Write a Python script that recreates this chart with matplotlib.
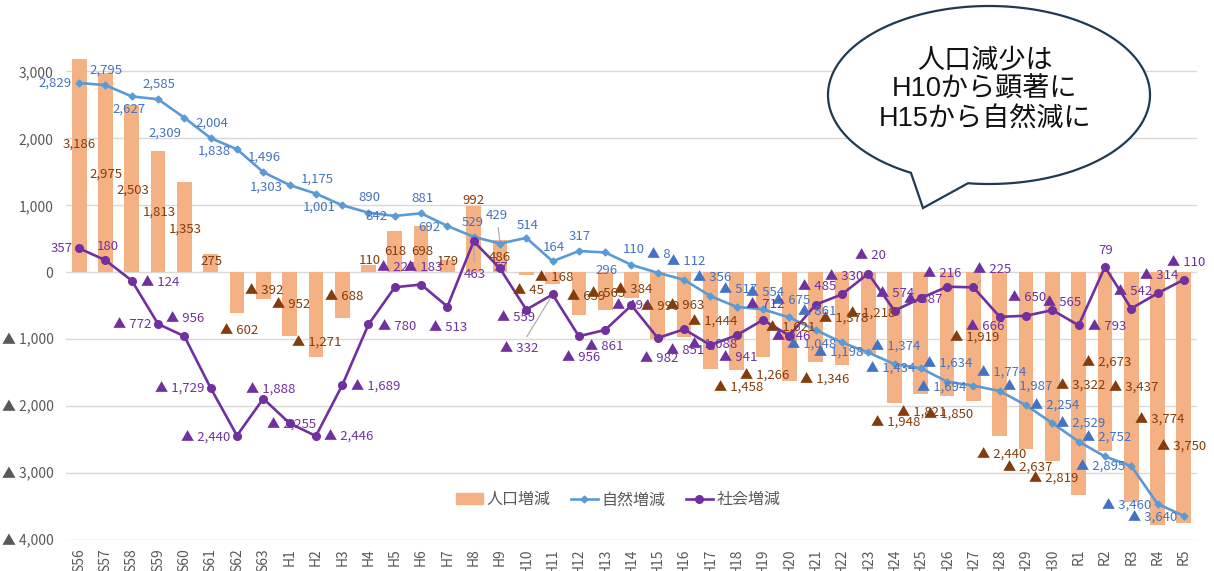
import numpy as np
import matplotlib
matplotlib.use('Agg')
import matplotlib.pyplot as plt
import matplotlib.transforms as mtransforms
from matplotlib.path import Path
from matplotlib.patches import PathPatch, Patch
from matplotlib.lines import Line2D
from matplotlib.ticker import FuncFormatter

plt.rcParams['font.family'] = ['Noto Sans CJK JP', 'DejaVu Sans']

# data (persons per year)
years = ['S56', 'S57', 'S58', 'S59', 'S60', 'S61', 'S62', 'S63',
         'H1', 'H2', 'H3', 'H4', 'H5', 'H6', 'H7', 'H8', 'H9', 'H10',
         'H11', 'H12', 'H13', 'H14', 'H15', 'H16', 'H17', 'H18', 'H19', 'H20',
         'H21', 'H22', 'H23', 'H24', 'H25', 'H26', 'H27', 'H28', 'H29', 'H30',
         'R1', 'R2', 'R3', 'R4', 'R5']
pop = [3186, 2975, 2503, 1813, 1353, 275, -602, -392,
       -952, -1271, -688, 110, 618, 698, 179, 992, 486, -45,
       -168, -639, -565, -384, -990, -963, -1444, -1458, -1266, -1621,
       -1346, -1378, -1218, -1948, -1821, -1850, -1919, -2440, -2637, -2819,
       -3322, -2673, -3437, -3774, -3750]
natural = [2829, 2795, 2627, 2585, 2309, 2004, 1838, 1496,
           1303, 1175, 1001, 890, 842, 881, 692, 529, 429, 514,
           164, 317, 296, 110, -8, -112, -356, -517, -554, -675,
           -861, -1048, -1198, -1374, -1434, -1634, -1694, -1774, -1987, -2254,
           -2529, -2752, -2895, -3460, -3640]
social = [357, 180, -124, -772, -956, -1729, -2440, -1888,
          -2255, -2446, -1689, -780, -224, -183, -513, 463, 57, -559,
          -332, -956, -861, -494, -982, -851, -1088, -941, -712, -946,
          -485, -330, -20, -574, -387, -216, -225, -666, -650, -565,
          -793, 79, -542, -314, -110]

# label offsets in pixels (dx, dy up) - hand placed like the original
pop_off = [(0, -85), (1, -101), (1, -85), (1, -61), (1, -47), (1, -8), (2, -18), (1, 8),
           (2, 31), (1, 14), (2, 22), (1, 4), (1, -21), (1, -26), (0, -1), (0, 5), (0, -18), (2, -15),
           (2, 6), (7, 19), (1, 17), (2, 8), (2, 32), (1, 31), (2, 47), (2, -18), (2, -19), (1, 53),
           (9, -18), (2, 45), (2, 40), (1, -20), (1, -19), (1, -19), (1, 63), (2, -19), (2, -19), (1, -18),
           (2, 109), (2, 88), (2, 114), (2, 105), (-2, 76)]
nat_off = [(-24, 0), (1, 15), (-3, -13), (1, 15), (-19, -15), (1, 15), (-23, -2), (1, 15),
           (-23, -2), (1, 14), (-23, -2), (1, 15), (-18, -1), (1, 15), (-18, -2), (-1, 14), (-3, 28), (1, 12),
           (1, 14), (1, 15), (1, -18), (2, 15), (1, 18), (2, 18), (2, 19), (1, 17), (2, 17), (2, 17),
           (2, 18), (-30, -3), (-30, -1), (1, 17), (-30, -1), (1, 18), (-32, -2), (2, 18), (2, 18), (2, 17),
           (2, 18), (2, 18), (-31, -1), (-31, -2), (-31, -2)]
soc_off = [(-18, 0), (2, 14), (28, -2), (-26, -1), (1, 18), (-31, -1), (-31, -2), (7, 9),
           (2, -2), (33, -1), (34, -2), (29, -2), (1, 20), (2, 17), (1, -21), (1, -33), (1, 1), (-10, -8),
           (-33, -54), (2, -21), (-1, -17), (0, 0), (1, -21), (1, -21), (2, 0), (1, -22), (2, 15), (2, -1),
           (2, 18), (2, 18), (2, 18), (1, 17), (2, -1), (-5, 13), (19, 18), (-15, -10), (1, 18), (10, 8),
           (29, -1), (1, 16), (2, 17), (2, 18), (2, 17)]
leaders = {('soc', 15), ('nat', 16), ('soc', 18), ('soc', 34)}


def fmt(v):
    v = int(round(v))
    return f'{v:,}' if v >= 0 else f'▲ {-v:,}'


W, H = 1214, 571
fig = plt.figure(figsize=(W / 100, H / 100), dpi=100)
ax = fig.add_axes([66 / W, 1 - 540 / H, 1131 / W, 502 / H])

x = np.arange(len(years))
ax.bar(x, pop, width=0.56, color='#F4B183', zorder=2)
ax.plot(x, natural, color='#5B9BD5', lw=1.9, marker='D', ms=3.5, zorder=3)
ax.plot(x, social, color='#7030A0', lw=1.9, marker='o', ms=5.5, zorder=4)

ax.set_xlim(-0.5, len(years) - 0.5)
ax.set_ylim(-4000, 3500)
ax.set_yticks(range(-4000, 3001, 1000))
ax.yaxis.set_major_formatter(FuncFormatter(lambda v, p: fmt(v)))
ax.set_xticks(x)
ax.set_xticklabels(years, rotation=90, va='top')
ax.yaxis.grid(color='#D9D9D9', lw=1, zorder=0)
ax.set_axisbelow(True)
for s in ax.spines.values():
    s.set_visible(False)
ax.tick_params(axis='y', length=0, pad=9, labelsize=10, labelcolor='#595959')
ax.tick_params(axis='x', length=0, pad=6, labelsize=10, labelcolor='#595959')


def put_labels(vals, offs, color, key):
    for i, v in enumerate(vals):
        kw = {}
        if (key, i) in leaders:
            kw['arrowprops'] = dict(arrowstyle='-', color='#A6A6A6', lw=0.8,
                                    shrinkA=2, shrinkB=3)
        ax.annotate(fmt(v), (i, v), xytext=offs[i], textcoords='offset pixels',
                    ha='center', va='center', color=color, fontsize=9.5,
                    zorder=6, **kw)


put_labels(pop, pop_off, '#843C0C', 'pop')
put_labels(natural, nat_off, '#4472C4', 'nat')
put_labels(social, soc_off, '#7030A0', 'soc')

handles = [Patch(color='#F4B183'),
           Line2D([], [], color='#5B9BD5', lw=1.9, marker='D', ms=3.5),
           Line2D([], [], color='#7030A0', lw=1.9, marker='o', ms=5.5)]
ax.legend(handles, ['人口増減', '自然増減', '社会増減'], loc='center',
          bbox_to_anchor=(0.488, 0.08), ncol=3, frameon=False, fontsize=11.5,
          labelcolor='#595959', handlelength=1.7, handletextpad=0.2,
          columnspacing=1.3)

# speech bubble (image pixel coords, y down)
trans = mtransforms.Affine2D().scale(1 / W, -1 / H).translate(0, 1) + fig.transFigure
cx, cy, a, b = 989, 95, 161, 89
t = np.radians(np.linspace(119, 97.5 + 360, 300))
verts = [(cx + a * np.cos(tt), cy + b * np.sin(tt)) for tt in t]
verts.append((923, 208))
verts.append(verts[0])
codes = [Path.MOVETO] + [Path.LINETO] * (len(verts) - 2) + [Path.CLOSEPOLY]
bubble = PathPatch(Path(verts, codes), facecolor='white', edgecolor='#1F3A52',
                   lw=1.6, transform=trans, zorder=10)
fig.add_artist(bubble)
fig.text(985 / W, 1 - 90 / H, '人口減少は\nH10から顕著に\nH15から自然減に',
         ha='center', va='center', fontsize=19.5, linespacing=1.2,
         family=['Liberation Sans', 'Noto Sans CJK JP'],
         color='#111111', zorder=11)

fig.savefig('out.png', dpi=100)
